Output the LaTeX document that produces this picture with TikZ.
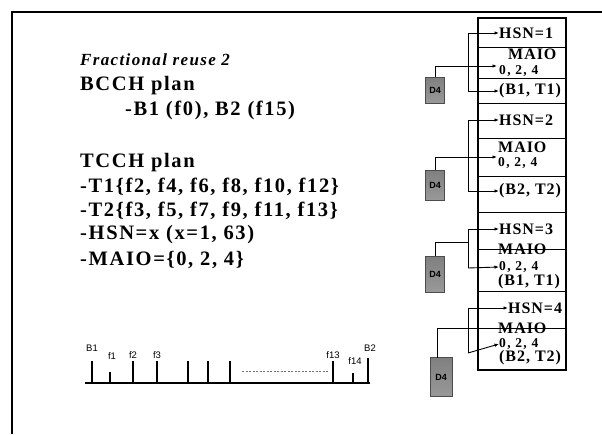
\documentclass[tikz,border=0pt]{standalone}
\usepackage{fontspec}
\setmainfont{Liberation Serif}
\setsansfont{Liberation Sans}
\newfontfamily\lsbig[LetterSpace=8]{Liberation Serif}
\newfontfamily\lssmall[LetterSpace=6]{Liberation Serif}
\newfontfamily\lsnum[LetterSpace=10]{Liberation Serif}
\usetikzlibrary{arrows.meta}
\tikzset{
  bigtxt/.style={anchor=west, inner sep=0pt, font=\lsbig\bfseries\fontsize{20.5}{22}\selectfont},
  titletxt/.style={anchor=west, inner sep=0pt, font=\lsbig\bfseries\itshape\fontsize{17}{19}\selectfont},
  boxtxt/.style={anchor=west, inner sep=0pt, font=\lssmall\bfseries\fontsize{16}{17}\selectfont},
  numtxt/.style={anchor=west, inner sep=0pt, font=\lsnum\bfseries\fontsize{13.5}{14}\selectfont},
  lbl/.style={inner sep=0pt, font=\sffamily\fontsize{9.5}{10}\selectfont},
  dfour/.style={draw=black!70, line width=0.6pt, minimum width=19pt, minimum height=26pt, inner sep=0pt,
     top color=black!50, middle color=black!20, bottom color=black!40, font=\sffamily\bfseries\fontsize{9}{10}\selectfont},
  arr/.style={line width=0.9pt, -{Latex[length=4.5pt,width=3.5pt]}},
  ln/.style={line width=0.9pt},
  frame/.style={line width=1.4pt},
  tick/.style={line width=1.1pt}
}
\begin{document}
\begin{tikzpicture}[x=1pt,y=-1pt]
\useasboundingbox (0,0) rectangle (602,434);
\fill[white] (0,0) rectangle (602,434);
% outer frame
\draw[frame] (12,434) -- (12,12) -- (602,12);

% left texts
\node[titletxt] (t0) at (80,60) {Fractional reuse 2};
\node[bigtxt] (t1) at (80,86) {BCCH plan};
\node[bigtxt] (t2) at (125,110) {-B1 (f0), B2 (f15)};
\node[bigtxt] (t3) at (80,163) {TCCH plan};
\node[bigtxt] (t4) at (80,187) {-T1\{f2, f4, f6, f8, f10, f12\}};
\node[bigtxt] (t5) at (80,211) {-T2\{f3, f5, f7, f9, f11, f13\}};
\node[bigtxt] (t6) at (80,235) {-HSN=x (x=1, 63)};
\node[bigtxt] (t7) at (80,260) {-MAIO=\{0, 2, 4\}};

% right box
\draw[frame] (478,18) rectangle (566,370);
\foreach \yy in {47,78,103,138,176,212,249,291}{\draw[ln] (478,\yy) -- (566,\yy);}

% section 1
\node[boxtxt] (h1) at (499,33) {HSN=1};
\node[boxtxt] (m1) at (508,54) {MAIO};
\node[numtxt] (z1) at (499,71) {0, 2, 4};
\node[boxtxt] (b1) at (499,91) {(B1, T1)};
\node[dfour] (d1) at (435,90) {D4};
\coordinate (v1a) at (468,33);
\coordinate (v1b) at (468,91);
\draw[arr] (v1a) -- (h1.west);
\draw[ln] (v1a) -- (v1b);
\draw[arr] (v1b) -- (b1.west);
\coordinate (e1) at (497,66);
\draw[arr] (d1.north) |- (e1);

% section 2
\node[boxtxt] (h2) at (499,120) {HSN=2};
\node[boxtxt] (m2) at (498,147) {MAIO};
\node[numtxt] (z2) at (498,163) {0, 2, 4};
\node[boxtxt] (b2) at (499,191) {(B2, T2)};
\node[dfour,minimum height=30pt] (d2) at (435,185) {D4};
\coordinate (v2a) at (468,120);
\coordinate (v2b) at (468,191);
\draw[arr] (v2a) -- (h2.west);
\draw[ln] (v2a) -- (v2b);
\draw[arr] (v2b) -- (b2.west);
\coordinate (e2) at (497,157);
\draw[arr] (d2.north) |- (e2);

% section 3
\node[boxtxt] (h3) at (499,229) {HSN=3};
\node[boxtxt] (m3) at (498,249) {MAIO};
\node[numtxt] (z3) at (499,267) {0, 2, 4};
\node[boxtxt] (b3) at (498,282) {(B1, T1)};
\node[dfour,minimum height=36pt] (d3) at (435,274) {D4};
\coordinate (v3a) at (468,229);
\coordinate (v3b) at (468,268);
\coordinate (j3) at (468,242);
\draw[arr] (v3a) -- (h3.west);
\draw[ln] (v3a) -- (v3b);
\draw[arr] (v3b) -- (z3.west);
\draw[ln] (d3.north) |- (j3);

% section 4
\node[boxtxt] (h4) at (508,308) {HSN=4};
\node[boxtxt] (m4) at (498,328) {MAIO};
\node[numtxt] (z4) at (499,344) {0, 2, 4};
\node[boxtxt] (b4) at (499,358) {(B2, T2)};
\node[dfour,minimum width=22pt,minimum height=39pt] (d4) at (441,377) {D4};
\coordinate (v4a) at (468,308);
\coordinate (v4b) at (468,353);
\coordinate (r4) at (566,328);
\coordinate (u4) at (437,357.5);
\draw[arr] (v4a) -- (h4.west);
\draw[ln] (v4a) -- (v4b);
\draw[arr] (v4b) -- (z4.west);
\draw[ln] (u4) |- (r4);

% spectrum
\coordinate (s0) at (85,383);
\coordinate (s1) at (370,383);
\draw[tick] (s0) -- (s1);
\foreach \xx/\yt in {92/361,110/372,133/361,157/361,188/361,208/361,230/361,333/361,353/373,368/358}{
  \draw[tick] (\xx,383) -- (\xx,\yt);
}
\draw[black!55, line width=0.8pt, dash pattern=on 2pt off 1.5pt] (242,371) -- (328,371);
\node[lbl] (lb1) at (92,348) {B1};
\node[lbl] (lf1) at (112,356) {f1};
\node[lbl] (lf2) at (133,355) {f2};
\node[lbl] (lf3) at (157,355) {f3};
\node[lbl] (lf13) at (333,355) {f13};
\node[lbl] (lf14) at (355,361) {f14};
\node[lbl] (lb2) at (370,348) {B2};
\end{tikzpicture}
\end{document}
